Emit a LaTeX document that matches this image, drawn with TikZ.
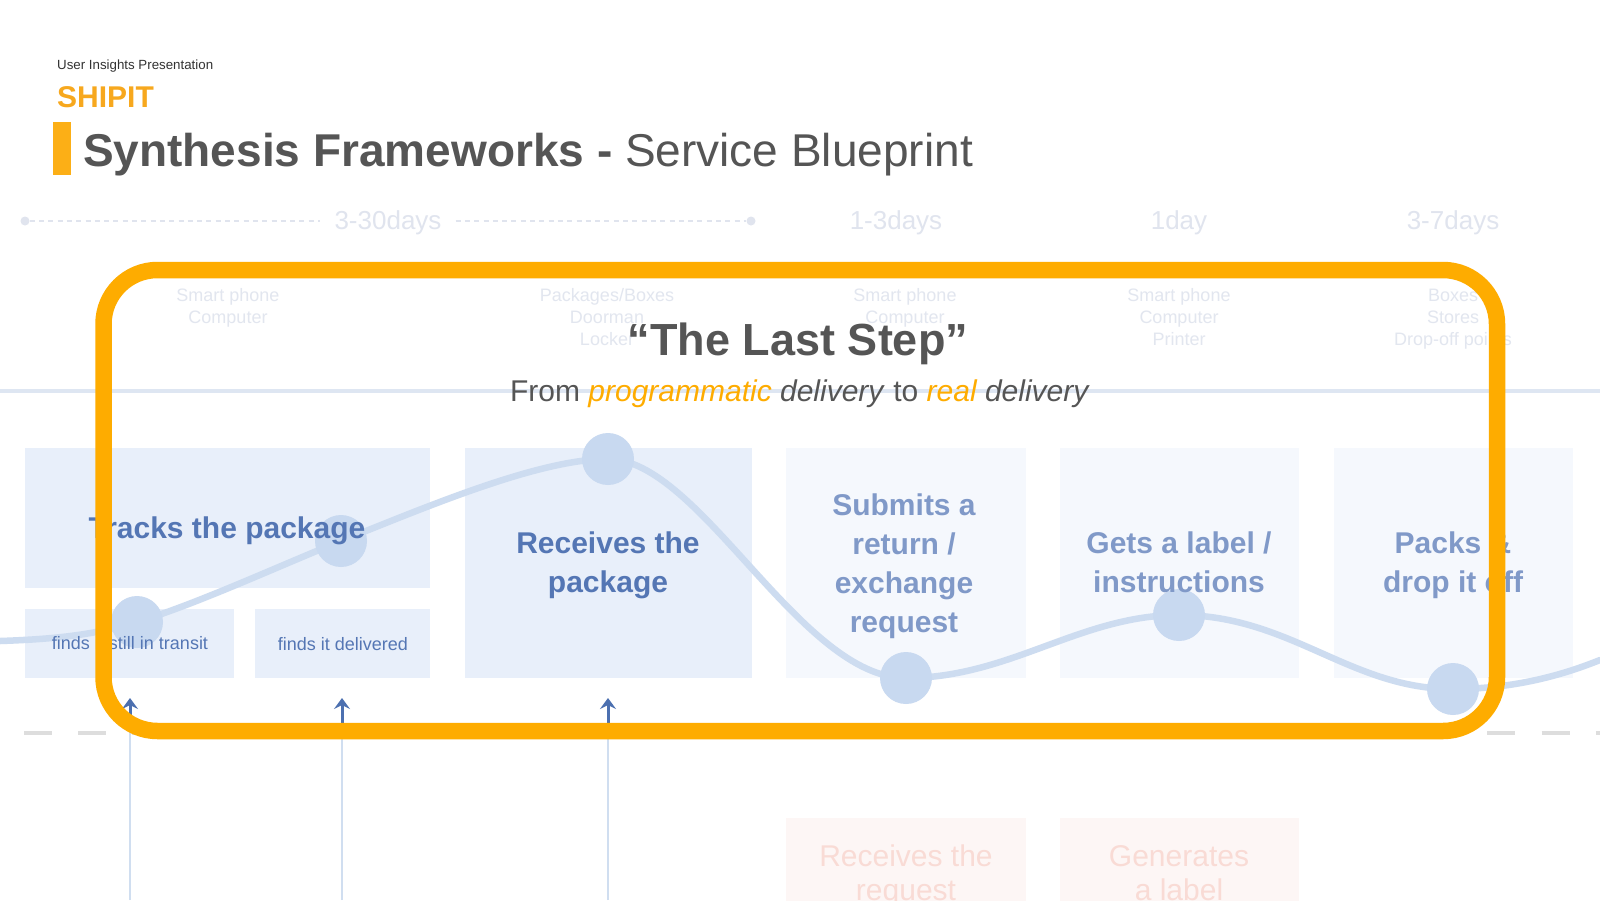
\documentclass[tikz,border=0pt]{standalone}
\usepackage{fontspec}
\setmainfont{Liberation Sans}
\usetikzlibrary{arrows.meta}
\newcommand\setfs[2]{\fontsize{#1}{#2}\selectfont}
\definecolor{titlegray}{RGB}{85,85,85}
\definecolor{kickergray}{RGB}{51,51,51}
\definecolor{shipitorange}{RGB}{247,168,30}
\definecolor{barorange}{RGB}{252,175,22}
\definecolor{frameorange}{RGB}{254,172,0}
\definecolor{tlgray}{RGB}{224,228,238}
\definecolor{hlinecol}{RGB}{222,230,242}
\definecolor{dashgray}{RGB}{221,221,221}
\definecolor{boxA}{RGB}{232,239,250}
\definecolor{boxB}{RGB}{245,248,253}
\definecolor{blueA}{RGB}{84,118,180}
\definecolor{blueB}{RGB}{128,153,200}
\definecolor{curvecol}{RGB}{205,220,240}
\definecolor{circcol}{RGB}{200,217,240}
\definecolor{arrowcol}{RGB}{76,112,176}
\definecolor{vlinecol}{RGB}{208,222,240}
\definecolor{pinkbox}{RGB}{253,246,245}
\definecolor{pinktext}{RGB}{249,219,213}
\definecolor{fadetext}{RGB}{226,230,239}
\tikzset{
  bgbox/.style={draw=none, inner sep=0, anchor=north west},
  boxtextA/.style={inner sep=0, align=center, text=blueA, font=\bfseries\setfs{30}{39}},
  boxtextB/.style={inner sep=0, align=center, text=blueB, font=\bfseries\setfs{30}{39}},
  smalltext/.style={inner sep=0, align=center, text=blueA, font=\setfs{18}{22}},
  fadelist/.style={inner sep=0, align=center, text=fadetext, font=\setfs{18}{22}},
  tlabel/.style={inner sep=0, text=tlgray, font=\setfs{26}{30}},
  tldot/.style={circle, fill=tlgray, inner sep=0, minimum size=9pt},
  tldots/.style={draw=tlgray, line width=1.6pt, dash pattern=on 5pt off 4.3pt},
  emotion/.style={draw=curvecol, line width=6.5pt, line cap=round},
  emodot/.style={circle, fill=circcol, inner sep=0, minimum size=52pt},
  vline/.style={draw=vlinecol, line width=2.4pt},
  uparrow/.style={draw=arrowcol, line width=3pt, -{Stealth[length=11pt,width=16pt,inset=4pt]}},
  pinktxt/.style={inner sep=0, align=center, text=pinktext, font=\setfs{30}{34}},
  lastframe/.style={draw=frameorange, line width=16.5pt, rounded corners=54pt}
}
\begin{document}
\begin{tikzpicture}[x=1pt,y=-1pt]
\clip (0,0) rectangle (1600,900);
\fill[white] (0,0) rectangle (1600,900);

% ---------- faded blueprint background ----------
% timeline
\node[tldot] (tl0) at (25,221) {};
\node[tldot] (tl1) at (751,221) {};
\node[tlabel, anchor=base, inner xsep=14pt] (d1) at (388,229) {3-30days};
\draw[tldots] (tl0) -- (d1.west |- tl0);
\draw[tldots] (d1.east |- tl1) -- (tl1);
\node[tlabel, anchor=base] (d2) at (896,229) {1-3days};
\node[tlabel, anchor=base] (d3) at (1179,229) {1day};
\node[tlabel, anchor=base] (d4) at (1453,229) {3-7days};

% props
\node[fadelist] (f1) at (228,308) {Smart phone\\Computer};
\node[fadelist] (f2) at (607,317) {Packages/Boxes\\Doorman\\Locker};
\node[fadelist] (f3) at (905,308) {Smart phone\\Computer};
\node[fadelist] (f4) at (1179,317) {Smart phone\\Computer\\Printer};
\node[fadelist] (f5) at (1453,319) {Boxes\\Stores\\Drop-off points};

% line of interaction
\coordinate (hl0) at (0,391);
\coordinate (hl1) at (1600,391);
\draw[draw=hlinecol, line width=4pt] (hl0) -- (hl1);

% line of visibility (dashed)
\coordinate (dl0) at (24,733);
\coordinate (dl1) at (1600,733);
\draw[draw=dashgray, line width=4pt, dash pattern=on 28pt off 26.2pt] (dl0) -- (dl1);

% boxes
\node[bgbox, fill=boxA, minimum width=405pt, minimum height=140pt] (b-tracks) at (25,448) {};
\node[bgbox, fill=boxA, minimum width=209pt, minimum height=69pt] (b-transit) at (25,609) {};
\node[bgbox, fill=boxA, minimum width=175pt, minimum height=69pt] (b-deliv) at (255,609) {};
\node[bgbox, fill=boxA, minimum width=287pt, minimum height=230pt] (b-recv) at (465,448) {};
\node[bgbox, fill=boxB, minimum width=240pt, minimum height=230pt] (b-submit) at (786,448) {};
\node[bgbox, fill=boxB, minimum width=239pt, minimum height=230pt] (b-label) at (1060,448) {};
\node[bgbox, fill=boxB, minimum width=239pt, minimum height=230pt] (b-packs) at (1334,448) {};

% backstage boxes
\node[bgbox, fill=pinkbox, minimum width=240pt, minimum height=100pt] (p-recv) at (786,818) {};
\node[bgbox, fill=pinkbox, minimum width=239pt, minimum height=100pt] (p-gen) at (1060,818) {};
\node[pinktxt] (pt1) at (906,876) {Receives the\\request};
\node[pinktxt] (pt2) at (1179,873) {Generates\\a label};

% emotion curve
\coordinate (e0) at (0,641);
\coordinate (e1) at (137,622);
\coordinate (e2) at (341,541);
\coordinate (e3) at (608,459);
\coordinate (e4) at (906,678);
\coordinate (e5) at (1179,615);
\coordinate (e6) at (1453,689);
\coordinate (e7) at (1600,660);
\draw[emotion] (e0) .. controls (60,639) and (97,634) .. (e1)
  .. controls (197,604) and (281,565) .. (e2)
  .. controls (431,505) and (540,459) .. (e3)
  .. controls (700,459) and (800,678) .. (e4)
  .. controls (1010,678) and (1080,615) .. (e5)
  .. controls (1290,615) and (1350,689) .. (e6)
  .. controls (1520,689) and (1570,672) .. (e7);
\foreach \i in {1,...,6} { \node[emodot] (c\i) at (e\i) {}; }

% box texts
\node[boxtextA] (t-tracks) at (227,531) {Tracks the package};
\node[smalltext] (t-transit) at (130,643) {finds it still in transit};
\node[smalltext] (t-deliv) at (343,644) {finds it delivered};
\node[boxtextA] (t-recv) at (608,565) {Receives the\\package};
\node[boxtextB] (t-submit) at (904,566) {Submits a\\return /\\exchange\\request};
\node[boxtextB] (t-label) at (1179,562) {Gets a label /\\instructions};
\node[boxtextB] (t-packs) at (1453,565) {Packs \&\\drop it off};

% touchpoint arrows
\foreach \n/\x in {1/130,2/342,3/608} {
  \coordinate (ab\n) at (\x,900);
  \coordinate (am\n) at (\x,728);
  \coordinate (at\n) at (\x,698);
  \draw[vline] (ab\n) -- (am\n);
  \draw[uparrow] (am\n) -- (at\n);
}

% ---------- highlight frame ----------
\draw[lastframe] (103.5,270) rectangle (1497,731);

% ---------- header ----------
\node[anchor=base west, inner sep=0, text=kickergray, font=\setfs{13.3}{16}] (kicker) at (57,69) {User Insights Presentation};
\node[anchor=base west, inner sep=0, text=shipitorange, font=\bfseries\setfs{30}{36}] (brand) at (57,107) {SHIPIT};
\node[anchor=north west, fill=barorange, inner sep=0, minimum width=18pt, minimum height=53pt] (bar) at (53,122) {};
\node[anchor=base west, inner sep=0, text=titlegray, font=\setfs{46}{55}] (title) at (83,166) {\textbf{Synthesis Frameworks -} Service Blueprint};

% ---------- overlay title ----------
\node[anchor=base, inner sep=0, text=titlegray, font=\bfseries\setfs{45}{54}] (laststep) at (798,355) {“The Last Step”};
\node[anchor=base, inner sep=0, text=titlegray, font=\setfs{30}{36}] (subtitle) at (800,401)
  {From \textit{\textcolor{frameorange}{programmatic}} \textit{delivery} to \textit{\textcolor{frameorange}{real}} \textit{delivery}};
\end{tikzpicture}
\end{document}
